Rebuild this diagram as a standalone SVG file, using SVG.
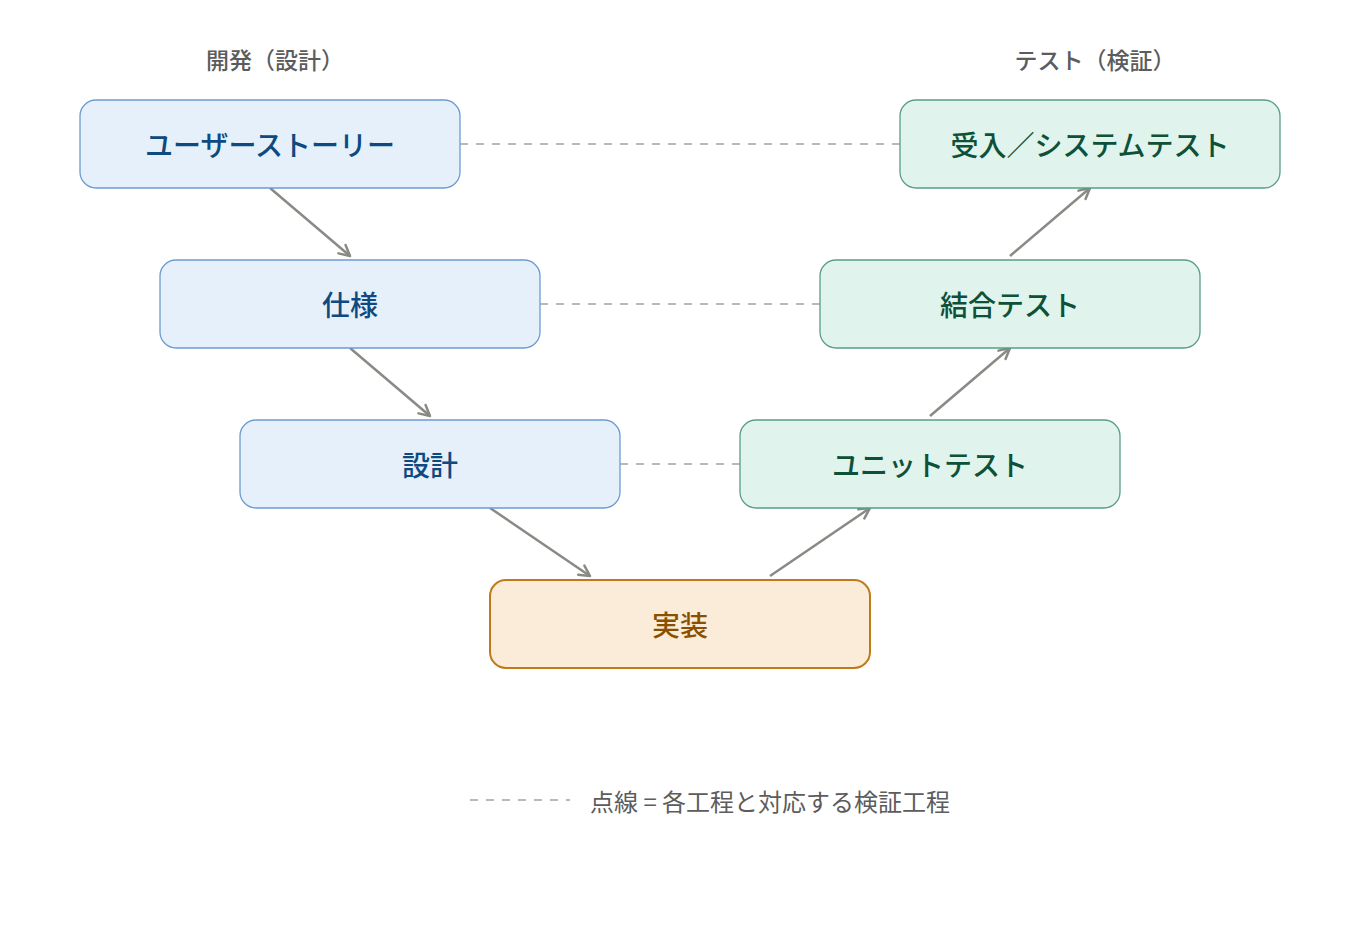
<svg xmlns="http://www.w3.org/2000/svg" width="1360" height="940" viewBox="0 0 1360 940">
<defs>
<marker id="arr" viewBox="0 0 14 14" refX="12" refY="7" markerWidth="14" markerHeight="14" markerUnits="userSpaceOnUse" orient="auto">
<path d="M1.5,1.5 L12,7 L1.5,12.5" fill="none" stroke="#8a8a85" stroke-width="2.5" stroke-linecap="round" stroke-linejoin="round"/>
</marker>
<style>
text{font-family:"Noto Sans CJK JP","Noto Sans",sans-serif}
.head{font-size:23px;fill:#5c5c5c;font-weight:500}
.lbl{font-size:28px;font-weight:500}
.dev rect{fill:#e5f0fa;stroke:#6d9bd0;stroke-width:1.3}
.dev text{fill:#0e4a80}
.tst rect{fill:#e0f3ec;stroke:#5a9e84;stroke-width:1.3}
.tst text{fill:#0c5138}
.imp rect{fill:#faecd8;stroke:#c07a1a;stroke-width:2}
.imp text{fill:#8a5000}
.flow{stroke:#8a8a85;stroke-width:2.5;fill:none;marker-end:url(#arr)}
.pair{stroke:#bdb9b2;stroke-width:2;stroke-dasharray:8 8;fill:none}
.legend{font-size:24px;fill:#5c5c5c}
</style>
</defs>
<rect width="1360" height="940" fill="#ffffff"/>
<text class="head" x="275" y="59" text-anchor="middle" dominant-baseline="central">開発（設計）</text>
<text class="head" x="1095" y="59" text-anchor="middle" dominant-baseline="central">テスト（検証）</text>
<g id="connectors">
<line class="pair" x1="460" y1="144" x2="900" y2="144"/>
<line class="pair" x1="540" y1="304" x2="820" y2="304"/>
<line class="pair" x1="620" y1="464" x2="740" y2="464"/>
<line class="flow" x1="270" y1="188" x2="350" y2="256"/>
<line class="flow" x1="350" y1="348" x2="430" y2="416"/>
<line class="flow" x1="490" y1="508" x2="590" y2="576"/>
<line class="flow" x1="770" y1="576" x2="870" y2="508"/>
<line class="flow" x1="930" y1="416" x2="1010" y2="348"/>
<line class="flow" x1="1010" y1="256" x2="1090" y2="188"/>
</g>
<g id="story" class="dev"><rect x="80" y="100" width="380" height="88" rx="16"/><text class="lbl" x="270" y="144" text-anchor="middle" dominant-baseline="central">ユーザーストーリー</text></g>
<g id="spec" class="dev"><rect x="160" y="260" width="380" height="88" rx="16"/><text class="lbl" x="350" y="304" text-anchor="middle" dominant-baseline="central">仕様</text></g>
<g id="design" class="dev"><rect x="240" y="420" width="380" height="88" rx="16"/><text class="lbl" x="430" y="464" text-anchor="middle" dominant-baseline="central">設計</text></g>
<g id="impl" class="imp"><rect x="490" y="580" width="380" height="88" rx="16"/><text class="lbl" x="680" y="624" text-anchor="middle" dominant-baseline="central">実装</text></g>
<g id="unit" class="tst"><rect x="740" y="420" width="380" height="88" rx="16"/><text class="lbl" x="930" y="464" text-anchor="middle" dominant-baseline="central">ユニットテスト</text></g>
<g id="integ" class="tst"><rect x="820" y="260" width="380" height="88" rx="16"/><text class="lbl" x="1010" y="304" text-anchor="middle" dominant-baseline="central">結合テスト</text></g>
<g id="accept" class="tst"><rect x="900" y="100" width="380" height="88" rx="16"/><text class="lbl" x="1090" y="144" text-anchor="middle" dominant-baseline="central">受入／システムテスト</text></g>
<g id="legend">
<line class="pair" x1="470" y1="800" x2="570" y2="800"/>
<text class="legend" x="590" y="800" dominant-baseline="central">点線 = 各工程と対応する検証工程</text>
</g>
</svg>
